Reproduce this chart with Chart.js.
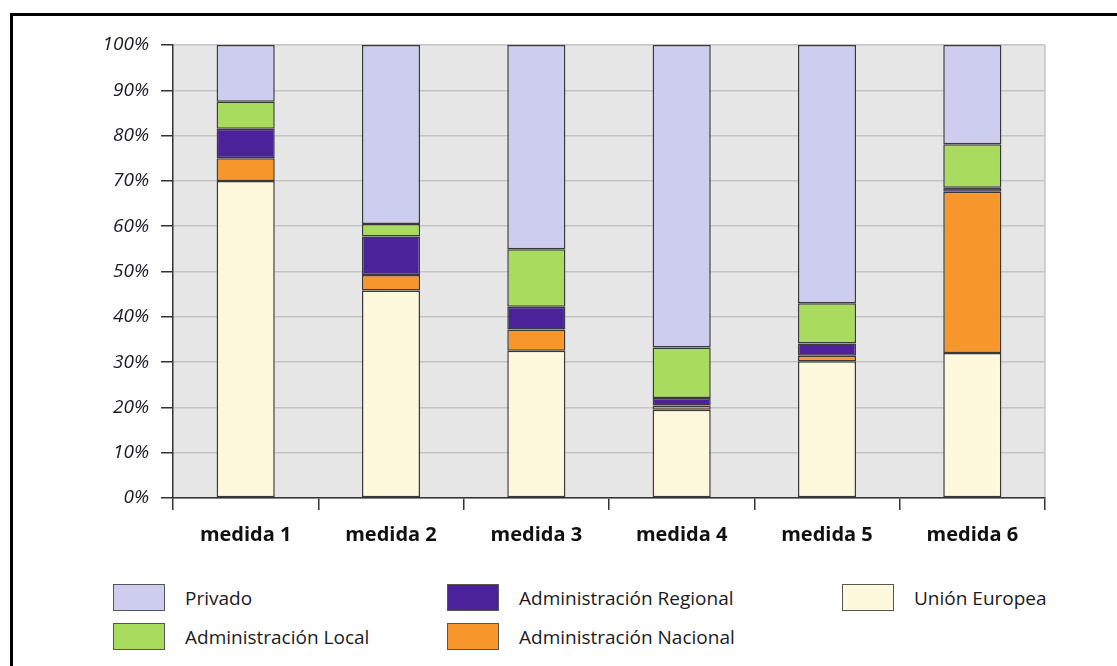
<!DOCTYPE html>
<html>
<head>
<meta charset="utf-8">
<script src="https://cdn.jsdelivr.net/npm/chart.js@4.4.1/dist/chart.umd.min.js"></script>
<style>
  body { margin: 0; background: #fff; width: 1117px; height: 666px; overflow: hidden; position: relative; font-family: "Open Sans", sans-serif; }
  #frame { position: absolute; left: 10px; top: 13px; width: 1200px; height: 800px; border: 3px solid #000; box-sizing: border-box; }
  #myChart { position: absolute; left: 0; top: 0; }
  .item { position: absolute; display: flex; align-items: center; height: 27px; font-size: 19px; color: #1a1a24; white-space: nowrap; }
  .box { width: 52px; height: 27px; border: 1.5px solid #555; box-sizing: border-box; margin-right: 20px; }
</style>
</head>
<body>
<div id="frame"></div>
<canvas id="myChart" width="1117" height="560"></canvas>
<div id="legend"></div>
<script>
const categories = ['medida 1', 'medida 2', 'medida 3', 'medida 4', 'medida 5', 'medida 6'];

// % of each measure, bottom to top
const unionEuropea = [70.0, 45.8, 32.5, 19.5, 30.2, 32.0];
const admNacional  = [5.0, 3.4, 4.7, 0.9, 1.2, 35.6];
const admRegional  = [6.5, 8.5, 5.0, 1.7, 2.7, 0.9];
const admLocal     = [6.0, 2.8, 12.7, 11.1, 8.9, 9.6];
const privado      = [12.5, 39.5, 45.1, 66.8, 57.0, 21.9];

const yTicks = [0, 10, 20, 30, 40, 50, 60, 70, 80, 90, 100];

const series = [
  { label: 'Unión Europea', data: unionEuropea, color: '#fef8dc' },
  { label: 'Administración Nacional', data: admNacional, color: '#f7962a' },
  { label: 'Administración Regional', data: admRegional, color: '#4b229a' },
  { label: 'Administración Local', data: admLocal, color: '#a9dc5e' },
  { label: 'Privado', data: privado, color: '#cdcdf0' },
];

// legend: top of the stack first, two rows, column by column
const legendOrder = ['Privado', 'Administración Local', 'Administración Regional', 'Administración Nacional', 'Unión Europea'];
const legendCols = [113, 447, 842];
const legendRows = [584, 623];

const legendEl = document.querySelector('#legend');
legendOrder.forEach((name, i) => {
  const s = series.find(x => x.label === name);
  const el = document.createElement('div');
  el.className = 'item';
  el.style.left = legendCols[Math.floor(i / 2)] + 'px';
  el.style.top = legendRows[i % 2] + 'px';
  el.innerHTML = '<span class="box" style="background:' + s.color + '"></span><span>' + name + '</span>';
  legendEl.appendChild(el);
});

const plotBg = {
  id: 'plotBg',
  beforeDraw(chart) {
    const { ctx, chartArea: a } = chart;
    ctx.save();
    ctx.fillStyle = '#e6e6e6';
    ctx.fillRect(a.left, a.top, a.right - a.left, a.bottom - a.top);
    ctx.strokeStyle = '#c4c4c4';
    ctx.lineWidth = 1.5;
    ctx.beginPath();
    ctx.moveTo(a.right, a.top);
    ctx.lineTo(a.right, a.bottom);
    ctx.stroke();
    ctx.restore();
  }
};

const ctx = document.querySelector('#myChart');

const config = {
  type: 'bar',
  data: {
    labels: categories,
    datasets: series.map(s => ({
      label: s.label,
      data: s.data,
      backgroundColor: s.color,
      borderColor: '#3a3a3a',
      borderWidth: 1.5,
      borderSkipped: false,
      barPercentage: 0.4,
      categoryPercentage: 1,
    })),
  },
  options: {
    responsive: false,
    animation: false,
    devicePixelRatio: 1,
    layout: { padding: { top: 45, right: 72, left: 0, bottom: 0 } },
    plugins: { legend: { display: false }, tooltip: { enabled: false } },
    scales: {
      x: {
        stacked: true,
        afterFit: (scale) => { scale.height = 62; },
        grid: { offset: true, drawOnChartArea: false, tickColor: '#333', tickLength: 12, lineWidth: 1.5 },
        border: { color: '#333', width: 1.5 },
        ticks: { color: '#111', padding: 13, font: { family: 'Open Sans', size: 20, weight: 'bold' } },
      },
      y: {
        stacked: true,
        min: 0,
        max: 100,
        afterFit: (scale) => { scale.width = 173; },
        afterBuildTicks: (scale) => { scale.ticks = yTicks.map(v => ({ value: v })); },
        grid: { color: '#c4c4c4', lineWidth: 1.5, tickColor: '#333', tickLength: 12 },
        border: { color: '#333', width: 1.5 },
        ticks: {
          color: '#1a1a24',
          padding: 12,
          font: { family: 'Open Sans', size: 19, style: 'italic' },
          callback: (v) => v + '%',
        },
      },
    },
  },
  plugins: [plotBg],
};

const chart = new Chart(ctx, config);
</script>
</body>
</html>
